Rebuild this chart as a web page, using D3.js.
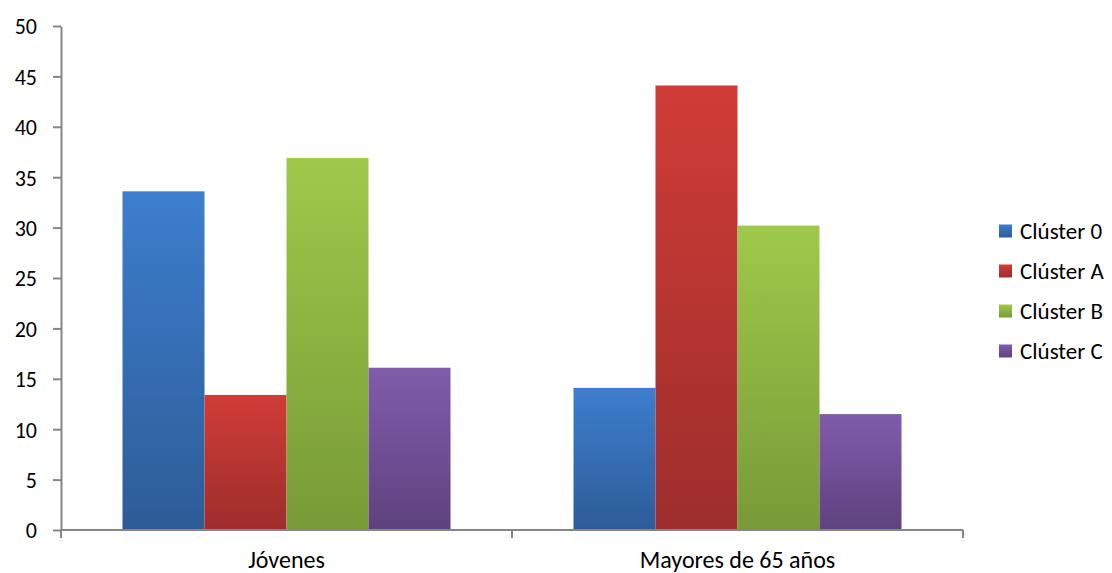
<!DOCTYPE html>
<html>
<head>
<meta charset="utf-8">
<script src="https://cdn.jsdelivr.net/npm/d3@7"></script>
<style>
  html, body { margin: 0; padding: 0; background: #fff; }
  svg text { font-family: Carlito, Calibri, Lato, sans-serif; fill: #000; }
</style>
</head>
<body>
<svg id="chart" width="1112" height="573"></svg>
<script>
const categories = ["Jóvenes", "Mayores de 65 años"];
const seriesNames = ["Clúster 0", "Clúster A", "Clúster B", "Clúster C"];
const cluster0 = [33.6, 14.1];
const clusterA = [13.4, 44.1];
const clusterB = [36.9, 30.2];
const clusterC = [16.1, 11.5];
const yTicks = [0, 5, 10, 15, 20, 25, 30, 35, 40, 45, 50];

const seriesValues = [cluster0, clusterA, clusterB, clusterC];
const colorsTop = ["#3D7ECE", "#D03C37", "#9FC94B", "#805CAB"];
const colorsBottom = ["#2D5C97", "#9D2E2C", "#789A37", "#5E427F"];

const svg = d3.select("#chart");
const mLeft = 61, mRight = 963, mTop = 26, mBottom = 530;

const x0 = d3.scaleBand().domain(categories).range([mLeft, mRight]).paddingInner(0).paddingOuter(0);
const x1 = d3.scaleBand().domain(seriesNames).range([0, x0.bandwidth()]).paddingInner(0).paddingOuter(0.75);
const y = d3.scaleLinear().domain([0, 50]).range([mBottom, mTop]);

const defs = svg.append("defs");
seriesNames.forEach((s, i) => {
  const g = defs.append("linearGradient").attr("id", "grad" + i)
    .attr("x1", 0).attr("y1", 0).attr("x2", 0).attr("y2", 1);
  g.append("stop").attr("offset", "0%").attr("stop-color", colorsTop[i]);
  g.append("stop").attr("offset", "100%").attr("stop-color", colorsBottom[i]);
});

// bars
categories.forEach((c, ci) => {
  seriesNames.forEach((s, si) => {
    const v = seriesValues[si][ci];
    svg.append("rect")
      .attr("x", x0(c) + x1(s))
      .attr("y", y(v))
      .attr("width", x1.bandwidth())
      .attr("height", y(0) - y(v))
      .attr("fill", `url(#grad${si})`);
  });
});

// y axis
const yAxis = d3.axisLeft(y).tickValues(yTicks).tickSize(8).tickPadding(16).tickSizeOuter(0);
const gy = svg.append("g").attr("transform", `translate(${mLeft},0)`).call(yAxis);
gy.select(".domain").attr("stroke", "#868686").attr("stroke-width", 2);
gy.selectAll(".tick line").attr("stroke", "#868686").attr("stroke-width", 2);
gy.selectAll(".tick text").style("font-size", "22px").attr("dy", "0.36em");

// x axis
const gx = svg.append("g").attr("transform", `translate(0,${mBottom})`);
gx.append("line").attr("x1", mLeft).attr("x2", mRight).attr("y1", 0).attr("y2", 0)
  .attr("stroke", "#868686").attr("stroke-width", 2);
const boundaries = [mLeft].concat(categories.map(c => x0(c) + x0.bandwidth()));
gx.selectAll("line.tk").data(boundaries).enter().append("line")
  .attr("class", "tk")
  .attr("x1", d => d).attr("x2", d => d).attr("y1", 0).attr("y2", 8)
  .attr("stroke", "#868686").attr("stroke-width", 2);
gx.selectAll("text.cat").data(categories).enter().append("text")
  .attr("class", "cat")
  .attr("x", d => x0(d) + x0.bandwidth() / 2)
  .attr("y", 38)
  .attr("text-anchor", "middle")
  .style("font-size", "24px")
  .text(d => d);

// legend
const lg = svg.append("g").attr("transform", "translate(999,231)");
seriesNames.forEach((s, i) => {
  const row = lg.append("g").attr("transform", `translate(0,${i * 40})`);
  row.append("rect").attr("x", 0).attr("y", -6.5).attr("width", 13).attr("height", 13)
    .attr("fill", `url(#grad${i})`);
  row.append("text").attr("x", 21).attr("y", 0).attr("dy", "0.36em")
    .style("font-size", "23px").text(s);
});
</script>
</body>
</html>
